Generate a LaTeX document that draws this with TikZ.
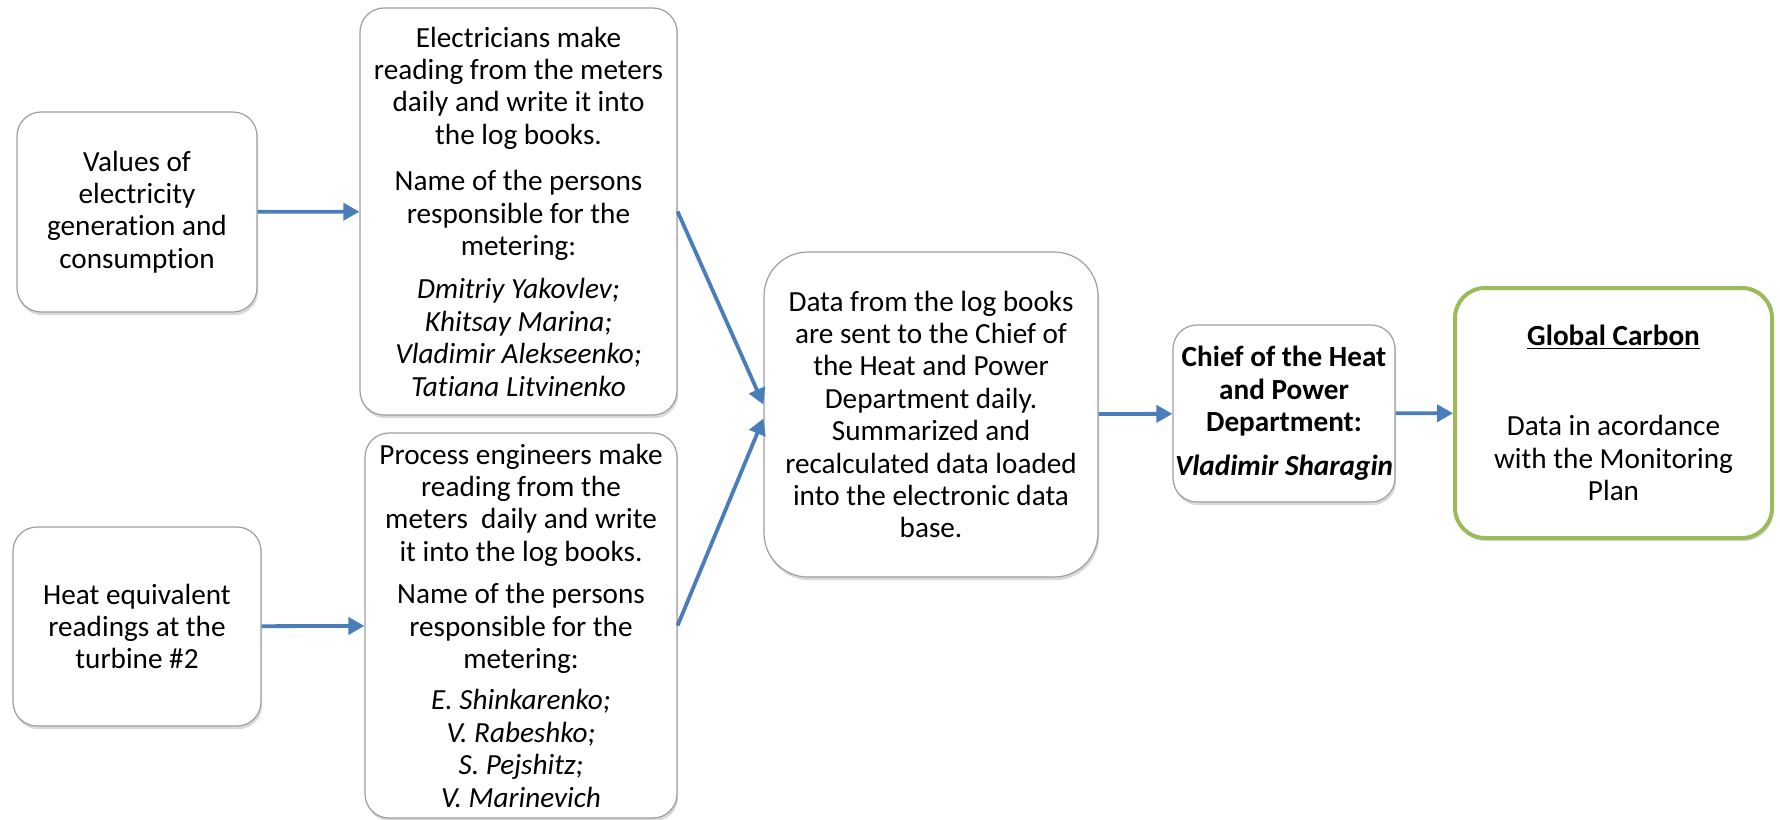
\documentclass[tikz,border=0pt]{standalone}
\usepackage{fontspec}
\setmainfont{Carlito}[Ligatures=NoCommon]
\usepackage{tikz}
\usetikzlibrary{arrows.meta}
\usetikzlibrary{shadows}
\definecolor{arrowblue}{HTML}{4A7EBB}
\definecolor{boxgreen}{HTML}{9BBB59}

\begin{document}
\begin{tikzpicture}[x=0.5pt,y=-0.5pt,
  box/.style={draw=gray!75,line width=0.6pt,fill=white,rounded corners=12pt,align=center,
    font=\fontsize{14.6pt}{16.2pt}\selectfont,inner sep=1pt,
    drop shadow={shadow xshift=0.6pt,shadow yshift=-1.6pt,opacity=0.3}},
  flow/.style={draw=arrowblue,line width=1.9pt,-{Triangle[length=8pt,width=8.5pt]}}]
\useasboundingbox (0,0) rectangle (1780,819);
        \node[box,minimum width=120pt,minimum height=100pt] (values) at (137,212)
          {Values of\\electricity\\generation and\\consumption};
        \node[box,minimum width=124pt,minimum height=99.5pt] (heat) at (137,626.5)
          {Heat equivalent\\readings at the\\turbine \#2};
        \node[box,minimum width=158.5pt,minimum height=203.5pt] (electricians) at (518.5,211.5)
          {Electricians make\\reading from the meters\\daily and write it into\\the log books.\\[7pt]
           Name of the persons\\responsible for the\\metering:\\[5.5pt]
           \itshape Dmitriy Yakovlev;\\\itshape Khitsay Marina;\\\itshape Vladimir Alekseenko;\\\itshape Tatiana Litvinenko};
        \node[box,minimum width=156pt,minimum height=192.5pt] (process) at (521,625.5)
          {Process engineers make\\reading from the\\meters\ \ daily and write\\it into the log books.\\[5pt]
           Name of the persons\\responsible for the\\metering:\\[4.5pt]
           \itshape E. Shinkarenko;\\\itshape V. Rabeshko;\\\itshape S. Pejshitz;\\\itshape V. Marinevich};
        \node[box,rounded corners=22pt,minimum width=167pt,minimum height=162.5pt] (datalog) at (931,414.5)
          {Data from the log books\\are sent to the Chief of\\the Heat and Power\\Department daily.\\Summarized and\\recalculated data loaded\\into the electronic data\\base.};
        \node[box,minimum width=108pt,minimum height=88.5pt] (chief) at (1284,413.5)
          {\bfseries Chief of the Heat\\\bfseries and Power\\\bfseries Department:\\[6pt]\bfseries\itshape Vladimir Sharagin};
        \node[box,draw=boxgreen,line width=2pt,rounded corners=15pt,drop shadow={opacity=0},
          minimum width=158.5pt,minimum height=125pt] (carbon) at (1613.5,413)
          {\bfseries\underline{Global Carbon}\\[29pt]Data in acordance\\with the Monitoring\\Plan};
        \draw[flow] (values) -- (electricians);
        \draw[flow] (heat) -- (process);
        \draw[flow] (electricians.east) -- ([yshift=5pt]datalog.west);
        \draw[flow] (process.east) -- ([yshift=-2pt]datalog.west);
        \draw[flow] (datalog) -- (chief);
        \draw[flow] (chief) -- (carbon);
\end{tikzpicture}
\end{document}
